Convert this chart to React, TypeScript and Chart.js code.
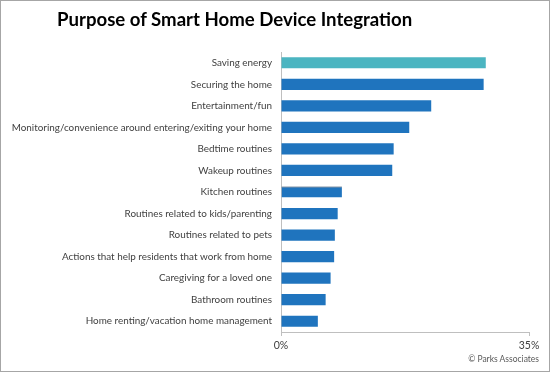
import React, { useEffect, useRef } from "react";
import { Chart, registerables } from "chart.js";

Chart.register(...registerables);

const categories = [
  "Saving energy",
  "Securing the home",
  "Entertainment/fun",
  "Monitoring/convenience around entering/exiting your home",
  "Bedtime routines",
  "Wakeup routines",
  "Kitchen routines",
  "Routines related to kids/parenting",
  "Routines related to pets",
  "Actions that help residents that work from home",
  "Caregiving for a loved one",
  "Bathroom routines",
  "Home renting/vacation home management",
];

const values = [28.9, 28.6, 21.2, 18.1, 15.9, 15.7, 8.6, 8.0, 7.6, 7.5, 7.0, 6.3, 5.2];

const xTicks = [0, 35];

const title = "Purpose of Smart Home Device Integration";
const source = "© Parks Associates";

const FONT = "Lato, 'Open Sans', sans-serif";

export default function App() {
  const ref = useRef<HTMLCanvasElement | null>(null);

  useEffect(() => {
    document.body.style.margin = "0";
    if (!ref.current) return;
    const colors = categories.map((_, i) => (i === 0 ? "#4bb5c1" : "#1f74be"));
    const borderWidths = categories.map((_, i) =>
      i === 6 ? { top: 1, right: 0, bottom: 0, left: 0 } : 0
    );
    const chart = new Chart(ref.current, {
      type: "bar",
      data: {
        labels: categories,
        datasets: [
          {
            data: values,
            backgroundColor: colors,
            borderColor: "#0d2f52",
            borderWidth: borderWidths as any,
            borderSkipped: false,
            barPercentage: 0.52,
            categoryPercentage: 1,
          },
        ],
      },
      options: {
        indexAxis: "y",
        animation: false,
        responsive: false,
        maintainAspectRatio: false,
        layout: { padding: { top: 52, right: 21, left: 0, bottom: 0 } },
        plugins: {
          legend: { display: false },
          tooltip: { enabled: false },
          title: { display: false },
        },
        scales: {
          x: {
            min: xTicks[0],
            max: xTicks[xTicks.length - 1],
            afterBuildTicks: (scale: any) => {
              scale.ticks = xTicks.map((v) => ({ value: v }));
            },
            afterFit: (scale: any) => {
              scale.height = 40;
            },
            ticks: {
              callback: (v: any) => v + "%",
              font: { family: FONT, size: 10.5 },
              color: "#404040",
              padding: 3,
              maxRotation: 0,
            },
            grid: {
              drawOnChartArea: false,
              drawTicks: true,
              tickLength: 4,
              color: "#bfbfbf",
            },
            border: { display: true, color: "#bfbfbf" },
          },
          y: {
            afterFit: (scale: any) => {
              scale.width = 281;
            },
            ticks: {
              font: { family: FONT, size: 9.9 },
              color: "#404040",
              padding: 9,
              autoSkip: false,
            },
            grid: { display: false, drawTicks: false },
            border: { display: true, color: "#bfbfbf" },
          },
        },
      },
    });
    return () => chart.destroy();
  }, []);

  return (
    <div
      style={{
        position: "absolute",
        left: 0,
        top: 0,
        width: 550,
        height: 372,
        boxSizing: "border-box",
        border: "1px solid #a6a6a6",
        background: "#fff",
        overflow: "hidden",
      }}
    >
      <canvas
        ref={ref}
        width={550}
        height={372}
        style={{ position: "absolute", left: -1, top: -1, width: 550, height: 372 }}
      />
      <div
        style={{
          position: "absolute",
          left: 56,
          top: 7,
          fontFamily: FONT,
          fontWeight: 700,
          fontSize: 18.6,
          color: "#000",
          whiteSpace: "nowrap",
        }}
      >
        {title}
      </div>
      <div
        style={{
          position: "absolute",
          right: 10,
          top: 353,
          fontFamily: FONT,
          fontSize: 8.5,
          color: "#595959",
          whiteSpace: "nowrap",
        }}
      >
        {source}
      </div>
    </div>
  );
}
